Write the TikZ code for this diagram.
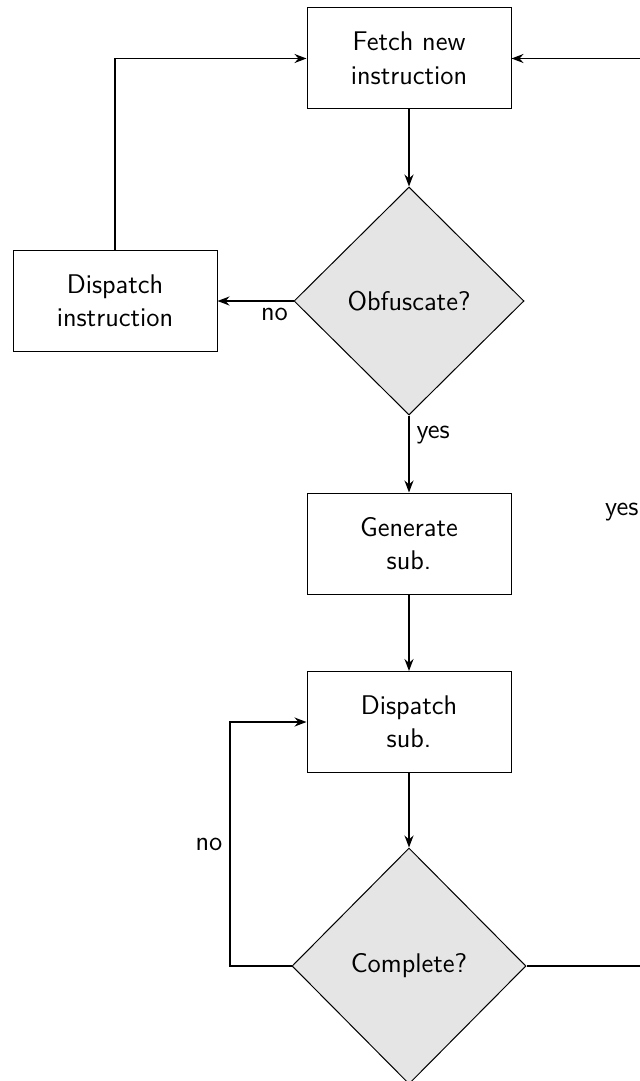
\documentclass[tikz,border=0pt]{standalone}
\usetikzlibrary{shapes.geometric,arrows.meta}

\begin{document}
\begin{tikzpicture}[
    x=0.5pt, y=-0.5pt,
    font=\fontsize{13.5}{16.75}\selectfont\sffamily,
    stepbox/.style={draw, line width=0.5pt, minimum width=102pt, minimum height=50.5pt,
                    align=center, inner sep=2pt},
    decision/.style={diamond, draw, line width=0.5pt, fill=gray!20, aspect=1,
                     align=center, inner sep=1pt},
    flow/.style={line width=0.9pt, -{Stealth[length=6pt,width=4.5pt,inset=2pt]}},
  ]
  \useasboundingbox (0,0) rectangle (639,1081);

  % process steps
  \node[stepbox] (fetch) at (409,58.5)  {Fetch new\\instruction};
  \node[stepbox] (dinst) at (115,301)   {Dispatch\\instruction};
  \node[stepbox] (gen)   at (409,543.5) {Generate\\sub.};
  \node[stepbox] (dsub)  at (409,722)   {Dispatch\\sub.};

  % decisions
  \node[decision, minimum width=115pt, minimum height=114pt] (obf) at (409,301) {Obfuscate?};
  \node[decision, minimum width=117pt, minimum height=118pt] (comp) at (409,966) {Complete?};

  % loop corners
  \coordinate (lc) at (230,966);
  \coordinate (lt) at (230,722);
  \coordinate (rc) at (646,966);
  \coordinate (rt) at (646,58.5);

  % main flow
  \draw[flow] (fetch.south) -- (obf.north);
  \draw[flow] (obf.west) -- node[below, near start] {no} (dinst.east);
  \draw[flow] (dinst.north) |- (fetch.west);
  \draw[flow] (obf.south) -- node[right, near start] {yes} (gen.north);
  \draw[flow] (gen.south) -- (dsub.north);
  \draw[flow] (dsub.south) -- (comp.north);

  % repeat until complete
  \draw[flow] (comp.west) -- (lc) -- node[left] {no} (lt) -- (dsub.west);
  \draw[flow] (comp.east) -- (rc) -- node[left] {yes} (rt) -- (fetch.east);
\end{tikzpicture}
\end{document}
